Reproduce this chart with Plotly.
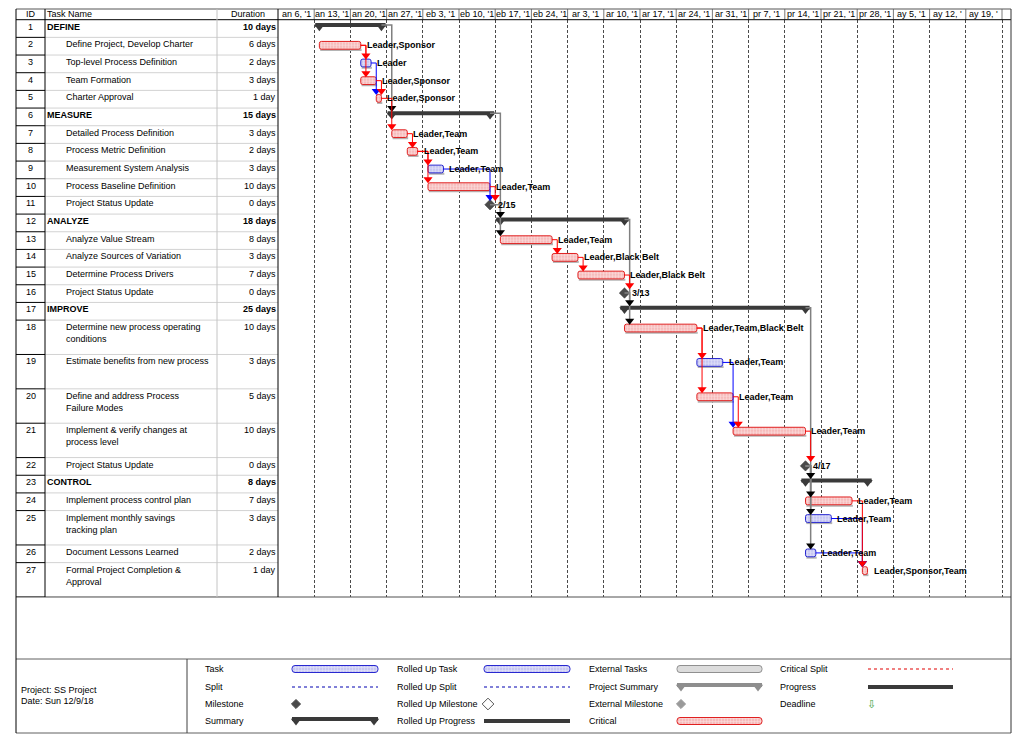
import plotly.graph_objects as go
from datetime import datetime, timedelta

# ------------------------------------------------------------------ data
task_ids = list(range(1, 28))
task_names = [
    "DEFINE", "Define Project, Develop Charter", "Top-level Process Definition",
    "Team Formation", "Charter Approval", "MEASURE", "Detailed Process Definition",
    "Process Metric Definition", "Measurement System Analysis",
    "Process Baseline Definition", "Project Status Update", "ANALYZE",
    "Analyze Value Stream", "Analyze Sources of Variation",
    "Determine Process Drivers", "Project Status Update", "IMPROVE",
    "Determine new process operating<br>conditions",
    "Estimate benefits from new process",
    "Define and address Process<br>Failure Modes",
    "Implement & verify changes at<br>process level",
    "Project Status Update", "CONTROL", "Implement process control plan",
    "Implement monthly savings<br>tracking plan", "Document Lessons Learned",
    "Formal Project Completion &<br>Approval",
]
durations = [10, 6, 2, 3, 1, 15, 3, 2, 3, 10, 0, 18, 8, 3, 7, 0, 25, 10, 3, 5, 10, 0, 8, 7, 3, 2, 1]
start_dates = [
    "2019-01-14", "2019-01-14", "2019-01-22", "2019-01-22", "2019-01-25",
    "2019-01-28", "2019-01-28", "2019-01-31", "2019-02-04", "2019-02-04",
    "2019-02-15", "2019-02-18", "2019-02-18", "2019-02-28", "2019-03-05",
    "2019-03-13", "2019-03-14", "2019-03-14", "2019-03-28", "2019-03-28",
    "2019-04-04", "2019-04-17", "2019-04-18", "2019-04-18", "2019-04-18",
    "2019-04-18", "2019-04-29",
]
finish_dates = [
    "2019-01-25", "2019-01-21", "2019-01-23", "2019-01-24", "2019-01-25",
    "2019-02-15", "2019-01-30", "2019-02-01", "2019-02-06", "2019-02-15",
    "2019-02-15", "2019-03-13", "2019-02-27", "2019-03-04", "2019-03-13",
    "2019-03-13", "2019-04-17", "2019-03-27", "2019-04-01", "2019-04-03",
    "2019-04-17", "2019-04-17", "2019-04-29", "2019-04-26", "2019-04-22",
    "2019-04-19", "2019-04-29",
]
task_kind = [
    "summary", "critical", "normal", "critical", "critical",
    "summary", "critical", "critical", "normal", "critical", "milestone",
    "summary", "critical", "critical", "critical", "milestone",
    "summary", "critical", "normal", "critical", "critical", "milestone",
    "summary", "critical", "normal", "normal", "critical",
]
resources = [
    "", "Leader,Sponsor", "Leader", "Leader,Sponsor", "Leader,Sponsor",
    "", "Leader,Team", "Leader,Team", "Leader,Team", "Leader,Team", "",
    "", "Leader,Team", "Leader,Black Belt", "Leader,Black Belt", "",
    "", "Leader,Team,Black Belt", "Leader,Team", "Leader,Team", "Leader,Team", "",
    "", "Leader,Team", "Leader,Team", "Leader,Team", "Leader,Sponsor,Team",
]
row_lines = [1, 1, 1, 1, 1, 1, 1, 1, 1, 1, 1, 1, 1, 1, 1, 1, 1, 2, 2, 2, 2, 1, 1, 1, 2, 1, 2]
# predecessor id, successor id, link type (r critical, b normal, k summary)
links = [
    (2, 3, "r"), (2, 4, "r"), (3, 5, "b"), (4, 5, "r"), (1, 6, "k"), (5, 7, "r"),
    (7, 8, "r"), (8, 9, "r"), (8, 10, "r"), (9, 11, "b"), (10, 11, "r"),
    (6, 12, "k"), (11, 13, "k"), (13, 14, "r"), (14, 15, "r"), (15, 16, "r"),
    (12, 17, "k"), (16, 18, "k"), (18, 19, "r"), (18, 20, "r"), (19, 21, "b"),
    (20, 21, "r"), (21, 22, "r"), (17, 23, "k"), (22, 24, "k"), (22, 25, "k"),
    (22, 26, "k"), (24, 27, "r"), (25, 27, "b"), (26, 27, "b"),
]
week_start = "2019-01-06"
week_labels = [
    "an 6, '1", "an 13, '1", "an 20, '1", "an 27, '1", "eb 3, '1", "eb 10, '1",
    "eb 17, '1", "eb 24, '1", "ar 3, '1", "ar 10, '1", "ar 17, '1", "ar 24, '1",
    "ar 31, '1", "pr 7, '1", "pr 14, '1", "pr 21, '1", "pr 28, '1", "ay 5, '1",
    "ay 12, '", "ay 19, '",
]
header_labels = ["ID", "Task Name", "Duration"]
project_lines = ["Project: SS Project", "Date: Sun 12/9/18"]
legend_labels = [
    ["Task", "Split", "Milestone", "Summary"],
    ["Rolled Up Task", "Rolled Up Split", "Rolled Up Milestone", "Rolled Up Progress"],
    ["External Tasks", "Project Summary", "External Milestone", "Critical"],
    ["Critical Split", "Progress", "Deadline"],
]

# ------------------------------------------------------------------ layout constants
FONT = "Liberation Sans, Arial, sans-serif"
W, H = 1024, 736
def px(x): return x / W
def py(y): return 1 - y / H

T_LEFT, C_ID, C_NAME, C_DUR, G_RIGHT = 16, 45, 217, 278, 1011
TOP, HEAD_BOT, TBL_BOT, LEG_TOP, LEG_BOT, LEG_SEP = 9, 19.7, 597, 659, 733, 187
PX_PER_DAY = 36.2 / 7
EXTRA_LINE = 0.945   # height of an additional text line, in row units

t0 = datetime.fromisoformat(week_start)
t_end = t0 + timedelta(days=(G_RIGHT - C_DUR) / PX_PER_DAY)

row_tops = []
acc = 0.0
for n in row_lines:
    row_tops.append(acc)
    acc += 1 + EXTRA_LINE * (n - 1)
total_units = acc

start_dt = [datetime.fromisoformat(s) for s in start_dates]
finish_dt = [datetime.fromisoformat(f) + timedelta(days=1) for f in finish_dates]
y_bar = [t + 0.45 for t in row_tops]
y_sum = [t + 0.30 for t in row_tops]
y_mil = [t + 0.47 for t in row_tops]

def anchor_y(i):
    k = task_kind[i]
    return y_sum[i] if k == "summary" else (y_mil[i] if k == "milestone" else y_bar[i])

def top_y(i):
    k = task_kind[i]
    if k == "summary":
        return y_sum[i] - 0.12
    if k == "milestone":
        return y_mil[i] - 0.25
    return y_bar[i] - 0.23

def fmt(d):
    return d.strftime("%Y-%m-%d %H:%M:%S")

fig = go.Figure()

# ------------------------------------------------------------------ task bars
def task_idx(kind):
    return [i for i, k in enumerate(task_kind) if k == kind]

all_tasks = task_idx("critical") + task_idx("normal")
fig.add_trace(go.Bar(
    orientation="h",
    y=[y_bar[i] + 0.27 for i in all_tasks],
    x=[(finish_dt[i] - start_dt[i]).total_seconds() * 1000 for i in all_tasks],
    base=[fmt(start_dt[i] + timedelta(hours=4)) for i in all_tasks],
    width=0.09, marker=dict(color="#b4b4b4", line=dict(width=0)),
    hoverinfo="skip", showlegend=False, xaxis="x", yaxis="y"))

for kind, fill, border in [("critical", "#f6bcbc", "#e02020"), ("normal", "#c6c6f2", "#2828d0")]:
    idx = task_idx(kind)
    fig.add_trace(go.Bar(
        orientation="h",
        y=[y_bar[i] for i in idx],
        x=[(finish_dt[i] - start_dt[i]).total_seconds() * 1000 for i in idx],
        base=[fmt(start_dt[i]) for i in idx],
        width=0.44,
        marker=dict(color=fill, line=dict(color=border, width=1), cornerradius=2,
                    pattern=dict(shape="+", size=3, solidity=0.35, fgcolor="#ffffff", bgcolor=fill)),
        hoverinfo="skip", showlegend=False, xaxis="x", yaxis="y"))

# ------------------------------------------------------------------ summary bars
for i in task_idx("summary"):
    fig.add_trace(go.Scatter(
        x=[start_dt[i] - timedelta(days=0.8), finish_dt[i] + timedelta(days=0.8)],
        y=[y_sum[i], y_sum[i]], mode="lines",
        line=dict(color="#3a3a3a", width=4), hoverinfo="skip", showlegend=False))
    fig.add_trace(go.Scatter(
        x=[start_dt[i], finish_dt[i]], y=[y_sum[i] + 0.1, y_sum[i] + 0.1], mode="markers",
        marker=dict(symbol="triangle-down", size=9, color="#3a3a3a"),
        hoverinfo="skip", showlegend=False))

# ------------------------------------------------------------------ milestones
mi = task_idx("milestone")
fig.add_trace(go.Scatter(
    x=[finish_dt[i] for i in mi], y=[y_mil[i] for i in mi], mode="markers",
    marker=dict(symbol="diamond", size=8, color="#4a4a4a", line=dict(color="#2a2a2a", width=0.5)),
    hoverinfo="skip", showlegend=False))

# ------------------------------------------------------------------ links
link_style = {"r": ("#ff0000", "#ff0000", 1), "b": ("#0000ff", "#0000ff", 1), "k": ("#808080", "#000000", 1.5)}
for kd in ["k", "b", "r"]:
    lx, ly, axx, ayy = [], [], [], []
    for p, s, t in links:
        if t != kd:
            continue
        pi, si = p - 1, s - 1
        xp = finish_dt[pi]
        yp = anchor_y(pi)
        xs = finish_dt[si] if task_kind[si] == "milestone" else start_dt[si]
        xt = max(xp + timedelta(days=1.0), xs)
        ya = top_y(si) - 0.19
        lx += [xp, xt, xt, None]
        ly += [yp, yp, ya, None]
        axx.append(xt)
        ayy.append(ya)
    lc, ac, lw = link_style[kd]
    fig.add_trace(go.Scatter(x=lx, y=ly, mode="lines", line=dict(color=lc, width=lw),
                             hoverinfo="skip", showlegend=False))
    fig.add_trace(go.Scatter(x=axx, y=ayy, mode="markers",
                             marker=dict(symbol="triangle-down", size=8, color=ac),
                             hoverinfo="skip", showlegend=False))

annotations = []
shapes = []

# bar labels
for i in range(len(task_ids)):
    if task_kind[i] in ("critical", "normal") and resources[i]:
        annotations.append(dict(x=finish_dt[i], y=y_bar[i], xref="x", yref="y", text="<b>%s</b>" % resources[i],
                                xanchor="left", yanchor="middle", xshift=4, showarrow=False,
                                font=dict(family=FONT, size=9, color="#000")))
    elif task_kind[i] == "milestone":
        d = finish_dt[i] - timedelta(days=1)
        annotations.append(dict(x=finish_dt[i], y=y_mil[i], xref="x", yref="y", text="<b>%d/%d</b>" % (d.month, d.day),
                                xanchor="left", yanchor="middle", xshift=6, showarrow=False,
                                font=dict(family=FONT, size=9, color="#000")))

# ------------------------------------------------------------------ table text
for i in range(len(task_ids)):
    bold = task_kind[i] == "summary"
    dtxt = "%d day" % durations[i] if durations[i] == 1 else "%d days" % durations[i]
    nm = task_names[i]
    if bold:
        nm, dtxt = "<b>%s</b>" % nm, "<b>%s</b>" % dtxt
    common = dict(y=row_tops[i], xref="paper", yref="y", yanchor="top", showarrow=False,
                  font=dict(family=FONT, size=9, color="#000"), align="left")
    annotations.append(dict(x=px((T_LEFT + C_ID) / 2), text=str(task_ids[i]), xanchor="center", **common))
    annotations.append(dict(x=px(45 if bold else 64), text=nm, xanchor="left", **common))
    annotations.append(dict(x=px(C_DUR), text=dtxt, xanchor="right", **common))

hy = py((TOP + HEAD_BOT) / 2)
hfont = dict(family=FONT, size=9, color="#000")
annotations.append(dict(x=px((T_LEFT + C_ID) / 2), y=hy, xref="paper", yref="paper", text=header_labels[0],
                        xanchor="center", yanchor="middle", showarrow=False, font=hfont))
annotations.append(dict(x=px(C_ID), y=hy, xref="paper", yref="paper", text=header_labels[1],
                        xanchor="left", yanchor="middle", showarrow=False, font=hfont))
annotations.append(dict(x=px((C_NAME + C_DUR) / 2), y=hy, xref="paper", yref="paper", text=header_labels[2],
                        xanchor="center", yanchor="middle", showarrow=False, font=hfont))

# timescale header
for k, lab in enumerate(week_labels):
    ws = t0 + timedelta(days=7 * k)
    annotations.append(dict(x=ws + timedelta(days=3.5), y=hy, xref="x", yref="paper", text=lab,
                            xanchor="center", yanchor="middle", showarrow=False, font=hfont))
    if k > 0:
        shapes.append(dict(type="line", xref="x", yref="paper", x0=ws, x1=ws, y0=py(TOP), y1=py(HEAD_BOT),
                           line=dict(color="#7a7a7a", width=1)))
ws_last = t0 + timedelta(days=7 * len(week_labels))
shapes.append(dict(type="line", xref="x", yref="paper", x0=ws_last, x1=ws_last, y0=py(TOP), y1=py(HEAD_BOT),
                   line=dict(color="#7a7a7a", width=1)))

# ------------------------------------------------------------------ frame lines
def hline(x0, x1, y, color, w=1):
    shapes.append(dict(type="line", xref="paper", yref="paper", x0=px(x0), x1=px(x1), y0=py(y), y1=py(y),
                       line=dict(color=color, width=w)))

def vline(x, y0, y1, color, w=1):
    shapes.append(dict(type="line", xref="paper", yref="paper", x0=px(x), x1=px(x), y0=py(y0), y1=py(y1),
                       line=dict(color=color, width=w)))

for bnd in row_tops[1:] + [total_units]:
    shapes.append(dict(type="line", xref="paper", yref="y", x0=px(C_ID), x1=px(C_DUR), y0=bnd, y1=bnd,
                       line=dict(color="#d2d2d2", width=1)))
    shapes.append(dict(type="line", xref="paper", yref="y", x0=px(T_LEFT), x1=px(C_ID), y0=bnd, y1=bnd,
                       line=dict(color="#000000", width=1)))

hline(T_LEFT, G_RIGHT, TOP, "#555555")
hline(T_LEFT, G_RIGHT, HEAD_BOT, "#000000")
hline(T_LEFT, G_RIGHT, TBL_BOT, "#505050")
hline(T_LEFT, G_RIGHT, LEG_TOP, "#606060")
hline(T_LEFT, G_RIGHT, LEG_BOT, "#606060")
vline(C_NAME, TOP, TBL_BOT, "#c4c4c4")
vline(C_ID, TOP, TBL_BOT, "#000000")
vline(C_DUR, TOP, TBL_BOT, "#000000")
vline(T_LEFT, TOP, LEG_BOT, "#000000")
vline(G_RIGHT, TOP, LEG_BOT, "#333333")
vline(LEG_SEP, LEG_TOP, LEG_BOT, "#404040")

# ------------------------------------------------------------------ legend (pixel subplot x2/y2)
col_text_x = [203, 395, 587, 778]
col_sym = [(292, 378), (484, 570), (677, 762), (868, 953)]
row_y = [669, 687, 704, 721]
lfont = dict(family=FONT, size=9, color="#000")
for c, labs in enumerate(legend_labels):
    for r, lab in enumerate(labs):
        annotations.append(dict(x=px(col_text_x[c]), y=py(row_y[r]), xref="paper", yref="paper", text=lab,
                                xanchor="left", yanchor="middle", showarrow=False, font=lfont))
for r, lab in enumerate(project_lines):
    annotations.append(dict(x=px(19), y=py(690 + 11 * r), xref="paper", yref="paper", text=lab,
                            xanchor="left", yanchor="middle", showarrow=False, font=lfont))

def leg_bar(c, r, fill, border, fg, pattern=True):
    x0, x1 = col_sym[c]
    mk = dict(color=fill, line=dict(color=border, width=1), cornerradius=3)
    if pattern:
        mk["pattern"] = dict(shape="+", size=3, solidity=0.35, fgcolor=fg, bgcolor=fill)
    fig.add_trace(go.Bar(orientation="h", x=[x1 - x0], base=[x0], y=[row_y[r]], width=7, marker=mk,
                         xaxis="x2", yaxis="y2", hoverinfo="skip", showlegend=False))

def leg_line(c, r, color, w, dash="solid"):
    x0, x1 = col_sym[c]
    fig.add_trace(go.Scatter(x=[x0, x1], y=[row_y[r], row_y[r]], mode="lines",
                             line=dict(color=color, width=w, dash=dash),
                             xaxis="x2", yaxis="y2", hoverinfo="skip", showlegend=False))

def leg_summary(c, r, color):
    x0, x1 = col_sym[c]
    y = row_y[r] - 2
    fig.add_trace(go.Scatter(x=[x0, x1], y=[y, y], mode="lines", line=dict(color=color, width=4),
                             xaxis="x2", yaxis="y2", hoverinfo="skip", showlegend=False))
    fig.add_trace(go.Scatter(x=[x0 + 4, x1 - 4], y=[y + 2, y + 2], mode="markers",
                             marker=dict(symbol="triangle-down", size=9, color=color),
                             xaxis="x2", yaxis="y2", hoverinfo="skip", showlegend=False))

def leg_marker(c, r, symbol, color, size=8, lc=None):
    x0, _ = col_sym[c]
    fig.add_trace(go.Scatter(x=[x0 + 4], y=[row_y[r]], mode="markers",
                             marker=dict(symbol=symbol, size=size, color=color,
                                         line=dict(color=lc or color, width=1)),
                             xaxis="x2", yaxis="y2", hoverinfo="skip", showlegend=False))

leg_bar(0, 0, "#c6c6f2", "#2828d0", "#ffffff")
leg_line(0, 1, "#8080d8", 2, "dot")
leg_marker(0, 2, "diamond", "#4a4a4a", 7)
leg_summary(0, 3, "#3a3a3a")
leg_bar(1, 0, "#c6c6f2", "#2828d0", "#ffffff")
leg_line(1, 1, "#8080d8", 2, "dot")
leg_marker(1, 2, "diamond-open", "#555555", 9)
leg_line(1, 3, "#3a3a3a", 4)
leg_bar(2, 0, "#dcdcdc", "#909090", "#ffffff", pattern=False)
leg_summary(2, 1, "#8e8e8e")
leg_marker(2, 2, "diamond", "#9a9a9a", 7)
leg_bar(2, 3, "#f6bcbc", "#e02020", "#ffffff")
leg_line(3, 0, "#f08080", 2, "dot")
leg_line(3, 1, "#3a3a3a", 4)
annotations.append(dict(x=px(col_sym[3][0] + 3), y=py(row_y[2]), xref="paper", yref="paper", text="\u21e9",
                        xanchor="center", yanchor="middle", showarrow=False,
                        font=dict(family="DejaVu Sans", size=11, color="#3fa33f")))

# ------------------------------------------------------------------ layout
fig.update_layout(
    width=W, height=H, margin=dict(l=0, r=0, t=0, b=0),
    paper_bgcolor="white", plot_bgcolor="rgba(0,0,0,0)",
    barmode="overlay", showlegend=False,
    font=dict(family=FONT, size=9, color="#000"),
    xaxis=dict(type="date", domain=[px(C_DUR), px(G_RIGHT)], range=[t0, t_end],
               showgrid=True, gridcolor="#4a4a4a", gridwidth=1, griddash="3px,2px",
               tick0=t0, dtick=7 * 86400000, showticklabels=False, ticks="",
               zeroline=False, showline=False, fixedrange=True, anchor="y"),
    yaxis=dict(domain=[py(TBL_BOT), py(HEAD_BOT)], range=[total_units, 0], showgrid=False,
               showticklabels=False, ticks="", zeroline=False, showline=False, fixedrange=True, anchor="x"),
    xaxis2=dict(domain=[0, 1], range=[0, W], visible=False, fixedrange=True, anchor="y2"),
    yaxis2=dict(domain=[0, 1], range=[H, 0], visible=False, fixedrange=True, anchor="x2"),
    annotations=annotations, shapes=shapes,
)

fig.write_html("out.html", config={"displayModeBar": False},
               post_script="document.body.style.margin='0px';")
